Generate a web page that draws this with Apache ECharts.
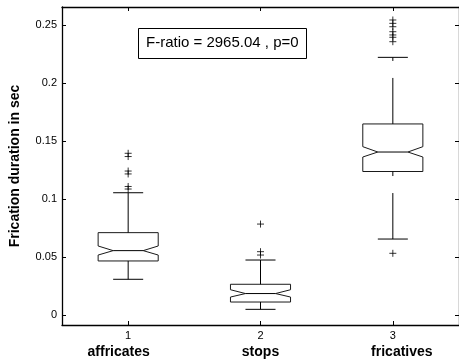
<!DOCTYPE html>
<html>
<head>
<meta charset="utf-8">
<script src="https://cdn.jsdelivr.net/npm/echarts@6/dist/echarts.min.js"></script>
<style>
  html, body { margin: 0; padding: 0; background: #fff; }
  #chart { width: 459px; height: 364px; }
</style>
</head>
<body>
<div id="chart"></div>
<script>
// categories
const groups = ['affricates', 'stops', 'fricatives'];
const groupNums = ['1', '2', '3'];

// box statistics (seconds)
const lowerWhisker = [0.0308, 0.0049, 0.0655];
const q1 = [0.0466, 0.0112, 0.1237];
const notchLow = [0.0517, 0.0155, 0.1362];
const median = [0.0555, 0.0185, 0.1405];
const notchHigh = [0.0595, 0.0218, 0.1451];
const q3 = [0.0710, 0.0265, 0.1647];
const upperWhisker = [0.1054, 0.0474, 0.2221];

// outliers per group
const outliers = [
    [0.1394, 0.1366, 0.1241, 0.1216, 0.1108, 0.1086],
    [0.0784, 0.0546, 0.0517],
    [0.2543, 0.2514, 0.2485, 0.2442, 0.2414, 0.2394, 0.2356, 0.0532]
];

const yTicks = [0, 0.05, 0.1, 0.15, 0.2, 0.25];
const annotation = 'F-ratio = 2965.04 , p=0';

const FONT = '"Liberation Sans", Arial, Helvetica, sans-serif';

const boxData = groups.map((g, i) => [
    i, lowerWhisker[i], q1[i], notchLow[i], median[i], notchHigh[i], q3[i], upperWhisker[i]
]);

const outlierData = [];
outliers.forEach((list, i) => list.forEach(v => outlierData.push([i, v])));

function renderBox(params, api) {
    const i = api.value(0);
    const x = api.coord([i, api.value(4)])[0];
    const band = api.size([1, 0])[0];
    const hw = band * 0.227;   // half box width
    const nw = hw / 2;         // half width at the notch
    const cw = hw / 2;         // half cap width
    const y = k => api.coord([i, api.value(k)])[1];
    const yLw = y(1), yQ1 = y(2), yNl = y(3), yMed = y(4), yNh = y(5), yQ3 = y(6), yUw = y(7);

    const boxStyle = { fill: 'none', stroke: '#1a1a1a', lineWidth: 1 };
    const lineStyle = { stroke: '#000', lineWidth: 1 };
    const dashStyle = { stroke: '#000', lineWidth: 1, lineDash: [46, 17] };

    return {
        type: 'group',
        children: [
            {
                type: 'polygon',
                shape: {
                    points: [
                        [x - hw, yQ1], [x + hw, yQ1], [x + hw, yNl], [x + nw, yMed],
                        [x + hw, yNh], [x + hw, yQ3], [x - hw, yQ3], [x - hw, yNh],
                        [x - nw, yMed], [x - hw, yNl]
                    ]
                },
                style: boxStyle
            },
            { type: 'line', shape: { x1: x - nw, y1: yMed, x2: x + nw, y2: yMed }, style: lineStyle },
            // whiskers are drawn bottom -> top so the dash phase matches
            { type: 'line', shape: { x1: x, y1: yLw, x2: x, y2: yQ1 }, style: dashStyle },
            { type: 'line', shape: { x1: x, y1: yQ3, x2: x, y2: yUw }, style: dashStyle },
            { type: 'line', shape: { x1: x - cw, y1: yLw, x2: x + cw, y2: yLw }, style: lineStyle },
            { type: 'line', shape: { x1: x - cw, y1: yUw, x2: x + cw, y2: yUw }, style: lineStyle }
        ]
    };
}

const chart = echarts.init(document.getElementById('chart'), null, { renderer: 'canvas' });

const axisLine = { show: true, onZero: false, lineStyle: { color: '#000', width: 1.3 } };
const tick = { show: true, inside: true, length: 4, lineStyle: { color: '#000', width: 1 } };

// group names sit a little off-centre in the original
const nameStyle = { fontFamily: FONT, fontSize: 14, fontWeight: 'bold', color: '#000', lineHeight: 19 };

const option = {
    backgroundColor: '#fff',
    animation: false,
    grid: { left: 58, right: -2.5, top: 7, bottom: 39, containLabel: false },
    xAxis: [
        {
            type: 'category',
            data: groups,
            position: 'bottom',
            boundaryGap: true,
            axisLine: axisLine,
            axisTick: Object.assign({ alignWithLabel: true }, tick),
            splitLine: { show: false },
            axisLabel: {
                margin: 4,
                interval: 0,
                formatter: (value, idx) => `{n|${groupNums[idx]}}\n{c${idx}|${value}}`,
                rich: {
                    n: { fontFamily: FONT, fontSize: 11, color: '#000', lineHeight: 14 },
                    c0: Object.assign({ padding: [0, 19, 0, 0] }, nameStyle),
                    c1: nameStyle,
                    c2: Object.assign({ padding: [0, 0, 0, 18] }, nameStyle)
                }
            }
        },
        {
            type: 'category',
            data: groups,
            position: 'top',
            boundaryGap: true,
            axisLine: axisLine,
            axisTick: Object.assign({ alignWithLabel: true }, tick),
            axisLabel: { show: false },
            splitLine: { show: false }
        }
    ],
    yAxis: [
        {
            type: 'value',
            position: 'left',
            min: -0.0086,
            max: 0.2655,
            axisLine: axisLine,
            axisTick: Object.assign({ customValues: yTicks }, tick),
            splitLine: { show: false },
            axisLabel: {
                customValues: yTicks,
                margin: 5,
                fontFamily: FONT,
                fontSize: 11,
                color: '#000'
            },
            name: 'Frication duration in sec',
            nameLocation: 'middle',
            nameRotate: 90,
            nameGap: 40,
            nameTextStyle: { fontFamily: FONT, fontSize: 14, fontWeight: 'bold', color: '#000' }
        },
        {
            type: 'value',
            position: 'right',
            min: -0.0086,
            max: 0.2655,
            axisLine: axisLine,
            axisTick: Object.assign({ customValues: yTicks }, tick),
            splitLine: { show: false },
            axisLabel: { show: false }
        }
    ],
    graphic: [
        {
            type: 'rect',
            left: 138,
            top: 28,
            shape: { width: 168, height: 30 },
            style: { fill: '#fff', stroke: '#000', lineWidth: 1 },
            z: 10
        },
        {
            type: 'text',
            left: 146,
            top: 35,
            style: { text: annotation, font: `15px ${FONT}`, fill: '#000' },
            z: 11
        }
    ],
    series: [
        {
            type: 'custom',
            xAxisIndex: 0,
            yAxisIndex: 0,
            renderItem: renderBox,
            data: boxData,
            encode: { x: 0, y: [1, 2, 3, 4, 5, 6, 7] },
            z: 3
        },
        {
            type: 'scatter',
            xAxisIndex: 0,
            yAxisIndex: 0,
            data: outlierData,
            symbol: 'path://M0,5L10,5M5,0L5,10',
            symbolSize: 7,
            itemStyle: { color: 'transparent', borderColor: '#000', borderWidth: 1 },
            z: 4
        }
    ]
};

chart.setOption(option);
</script>
</body>
</html>
